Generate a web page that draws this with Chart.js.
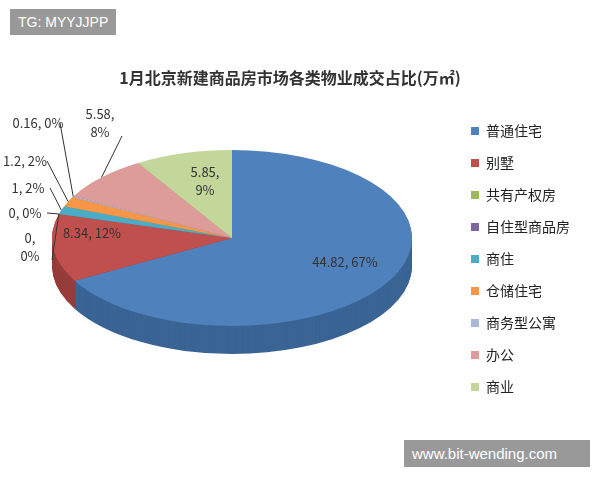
<!DOCTYPE html>
<html><head><meta charset="utf-8">
<script src="https://cdn.jsdelivr.net/npm/chart.js@4"></script>
<style>
body{margin:0;background:#fff;font-family:"Noto Sans CJK SC",sans-serif}
#wrap{position:relative;width:600px;height:480px}
.tag{position:absolute;color:#fff;background:#999;font:14px "Liberation Sans",sans-serif;padding:5px 8px}
</style></head><body>
<div id="wrap"><canvas id="c" width="600" height="480"></canvas>
<div class="tag" style="left:10px;top:9px">TG: MYYJJPP</div>
<div class="tag" style="left:404px;top:440px;width:170px;font-size:15px">www.bit-wending.com</div>
</div>
<script>
// Data
const categories = ['普通住宅','别墅','共有产权房','自住型商品房','商住','仓储住宅','商务型公寓','办公','商业']
const areaValues = [44.82, 8.34, 0, 0, 1, 1.2, 0.16, 5.58, 5.85]
const percentLabels = ['67%','12%','0%','0%','2%','2%','0%','8%','9%']

const colors = ['#4f81bd','#c0504d','#9bbb59','#8064a2','#4bacc6','#f79646','#a9b8d8','#dd9b99','#c4d79b']
const sides  = ['#3a6494','#963c3a','#7a9446','#634e80','#3a8aa0','#c4762f','#8593b0','#b07a78','#9cad7a']

// ellipse geometry & label placement (screen px)
const CX = 232, CY = 238, RX = 180, RY = 88, DEPTH = 28
const labelPos = [
  {x:345,y:262}, {x:92,y:233,noLine:true}, {x:30,y:246,two:true},
  {x:25,y:213}, {x:28,y:188}, {x:25,y:161},
  {x:38,y:123}, {x:100,y:122,two:true}, {x:205,y:180,two:true,noLine:true}
]

const pie3d = {
  id: 'pie3d',
  beforeDatasetsDraw(chart) {
    const ctx = chart.ctx
    const arcs = chart.getDatasetMeta(0).data
    function slice(a, fill, dy) {
      const r = a.outerRadius
      ctx.save()
      ctx.translate(CX, CY + dy)
      ctx.scale(RX / r, RY / r)
      ctx.beginPath()
      ctx.moveTo(0, 0)
      ctx.arc(0, 0, r, a.startAngle, a.endAngle)
      ctx.closePath()
      ctx.fillStyle = fill
      ctx.fill()
      ctx.restore()
    }
    for (let dy = DEPTH; dy > 0; dy--)
      arcs.forEach((a, i) => { if (a.endAngle > a.startAngle) slice(a, sides[i], dy) })
    arcs.forEach((a, i) => { if (a.endAngle > a.startAngle) slice(a, colors[i], 0) })

    ctx.font = '13px "Noto Sans CJK SC", sans-serif'
    ctx.fillStyle = '#333'
    ctx.strokeStyle = '#333'
    ctx.lineWidth = 1
    ctx.textBaseline = 'middle'
    ctx.textAlign = 'center'
    arcs.forEach((a, i) => {
      const p = labelPos[i]
      const m = (a.startAngle + a.endAngle) / 2
      const ex = CX + Math.cos(m) * RX, ey = CY + Math.sin(m) * RY
      if (i > 0 && !p.noLine) {
        ctx.beginPath()
        ctx.moveTo(ex, ey)
        ctx.lineTo(p.x + 22, p.y + (p.two ? 14 : 0))
        ctx.stroke()
      }
      const v = String(areaValues[i])
      if (p.two) {
        ctx.fillText(v + ',', p.x, p.y - 8)
        ctx.fillText(percentLabels[i], p.x, p.y + 10)
      } else {
        ctx.fillText(v + ', ' + percentLabels[i], p.x, p.y)
      }
    })
    return false
  }
}

new Chart('c', {
  type: 'pie',
  data: {
    labels: categories,
    datasets: [{ data: areaValues, backgroundColor: colors, borderWidth: 0 }]
  },
  options: {
    responsive: false,
    animation: false,
    layout: { padding: { top: 68, bottom: 30, right: 20 } },
    plugins: {
      tooltip: { enabled: false },
      title: {
        display: true,
        text: '1月北京新建商品房市场各类物业成交占比(万㎡)',
        font: { size: 16, weight: 'bold', family: '"Noto Sans CJK SC"' },
        color: '#333',
        padding: { bottom: 10 }
      },
      legend: {
        position: 'right',
        labels: { boxWidth: 8, boxHeight: 8, padding: 18, color: '#222',
          font: { size: 14, family: '"Noto Sans CJK SC"' } }
      }
    }
  },
  plugins: [pie3d]
})
</script>
</body></html>
